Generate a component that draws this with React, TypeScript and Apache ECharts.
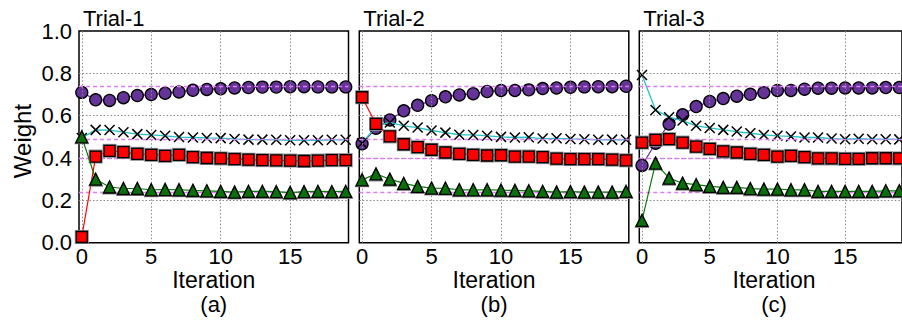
import React, { useEffect, useRef } from "react";
import * as echarts from "echarts";

// ---- data ----
const iterations = [0, 1, 2, 3, 4, 5, 6, 7, 8, 9, 10, 11, 12, 13, 14, 15, 16, 17, 18, 19];
const xTicks = [0, 5, 10, 15];
const yTicks = [0, 0.2, 0.4, 0.6, 0.8, 1.0];
const referenceWeights = [0.737, 0.486, 0.395, 0.242];
const trialTitles = ["Trial-1", "Trial-2", "Trial-3"];
const panelLabels = ["(a)", "(b)", "(c)"];

const circles1 = [0.71, 0.675, 0.672, 0.685, 0.695, 0.70, 0.706, 0.712, 0.72, 0.724, 0.727, 0.731, 0.733, 0.735, 0.735, 0.737, 0.737, 0.736, 0.736, 0.736];
const crosses1 = [0.495, 0.533, 0.532, 0.522, 0.513, 0.509, 0.505, 0.499, 0.497, 0.495, 0.494, 0.49, 0.487, 0.487, 0.486, 0.484, 0.484, 0.484, 0.486, 0.486];
const squares1 = [0.027, 0.407, 0.434, 0.428, 0.42, 0.415, 0.41, 0.415, 0.404, 0.40, 0.398, 0.395, 0.392, 0.39, 0.389, 0.388, 0.386, 0.388, 0.39, 0.39];
const triangles1 = [0.50, 0.30, 0.263, 0.256, 0.256, 0.25, 0.251, 0.25, 0.247, 0.245, 0.242, 0.239, 0.242, 0.242, 0.241, 0.237, 0.241, 0.242, 0.241, 0.242];

const circles2 = [0.467, 0.541, 0.58, 0.623, 0.649, 0.671, 0.689, 0.698, 0.704, 0.714, 0.719, 0.719, 0.722, 0.728, 0.731, 0.734, 0.736, 0.737, 0.737, 0.739];
const crosses2 = [0.47, 0.549, 0.568, 0.552, 0.544, 0.53, 0.52, 0.51, 0.509, 0.505, 0.50, 0.497, 0.498, 0.492, 0.493, 0.49, 0.489, 0.486, 0.487, 0.486];
const squares2 = [0.687, 0.561, 0.502, 0.465, 0.451, 0.439, 0.426, 0.42, 0.415, 0.412, 0.413, 0.407, 0.407, 0.404, 0.397, 0.395, 0.395, 0.395, 0.392, 0.389];
const triangles2 = [0.297, 0.325, 0.30, 0.28, 0.266, 0.258, 0.257, 0.25, 0.25, 0.25, 0.248, 0.247, 0.245, 0.242, 0.239, 0.241, 0.239, 0.239, 0.239, 0.242];

const circles3 = [0.365, 0.47, 0.561, 0.604, 0.643, 0.667, 0.681, 0.692, 0.701, 0.709, 0.719, 0.719, 0.725, 0.73, 0.73, 0.731, 0.731, 0.731, 0.733, 0.733];
const crosses3 = [0.792, 0.627, 0.593, 0.577, 0.552, 0.542, 0.533, 0.525, 0.517, 0.509, 0.505, 0.502, 0.497, 0.497, 0.492, 0.489, 0.491, 0.489, 0.489, 0.488];
const squares3 = [0.473, 0.486, 0.489, 0.473, 0.454, 0.443, 0.431, 0.426, 0.42, 0.415, 0.407, 0.41, 0.404, 0.398, 0.398, 0.396, 0.396, 0.399, 0.399, 0.398];
const triangles3 = [0.105, 0.376, 0.305, 0.281, 0.274, 0.266, 0.261, 0.261, 0.255, 0.253, 0.253, 0.25, 0.25, 0.242, 0.242, 0.242, 0.242, 0.242, 0.245, 0.245];

const trials = [
  { circles: circles1, crosses: crosses1, squares: squares1, triangles: triangles1 },
  { circles: circles2, crosses: crosses2, squares: squares2, triangles: triangles2 },
  { circles: circles3, crosses: crosses3, squares: squares3, triangles: triangles3 },
];

// ---- layout / style ----
const FONT = "Liberation Sans, Arial, sans-serif";
const PANEL_LEFTS = [79, 359.3, 639.3];
const PANEL_W = 269.5;
const PANEL_TOP = 31;
const PANEL_H = 211.7;
const CROSS_PATH = "path://M0,0L10,10M10,0L0,10";
const GRID_DOT = { color: "#888", type: [1.5, 2], width: 1 };

function pairs(vals: number[]) {
  return iterations.map((x, i) => [x, vals[i]]);
}

export default function App() {
  const ref = useRef<HTMLDivElement>(null);

  useEffect(() => {
    if (!ref.current) return;
    const chart = echarts.init(ref.current, undefined, { renderer: "svg" });

    const grids = PANEL_LEFTS.map((left) => ({
      left,
      top: PANEL_TOP,
      width: PANEL_W,
      height: PANEL_H,
      show: true,
      borderColor: "#000",
      borderWidth: 1.5,
      backgroundColor: "#fff",
      containLabel: false,
    }));

    const xAxes = PANEL_LEFTS.map((_, i) => ({
      type: "value",
      gridIndex: i,
      min: -0.2,
      max: 19.2,
      axisLine: { show: false },
      axisTick: { show: false },
      splitLine: { show: false },
      axisLabel: {
        customValues: xTicks,
        fontFamily: FONT,
        fontSize: 22,
        lineHeight: 20,
        color: "#000",
        margin: 4,
      },
    }));

    const yAxes = PANEL_LEFTS.map((_, i) => ({
      type: "value",
      gridIndex: i,
      min: yTicks[0],
      max: yTicks[yTicks.length - 1],
      interval: 0.2,
      axisLine: { show: false },
      axisTick: { show: false },
      splitLine: {
        show: true,
        showMinLine: false,
        showMaxLine: false,
        lineStyle: GRID_DOT,
      },
      axisLabel: {
        show: i === 0,
        fontFamily: FONT,
        fontSize: 22,
        color: "#000",
        margin: 7,
        formatter: (v: number) => v.toFixed(1),
      },
    }));

    const series: any[] = [];
    trials.forEach((t, i) => {
      const ax = { xAxisIndex: i, yAxisIndex: i };
      // reference lines + vertical grid lines
      series.push({
        type: "line",
        ...ax,
        data: [],
        z: 1,
        silent: true,
        markLine: {
          silent: true,
          symbol: ["none", "none"],
          label: { show: false },
          animation: false,
          data: [
            ...xTicks.map((v) => ({ xAxis: v, lineStyle: GRID_DOT })),
            ...referenceWeights.map((v) => ({
              yAxis: v,
              lineStyle: { color: "#e07cf5", type: [4, 3], width: 1.3 },
            })),
          ],
        },
      });
      // circles (purple)
      series.push({
        type: "line",
        ...ax,
        data: pairs(t.circles),
        z: 3,
        symbol: "circle",
        symbolSize: 12,
        lineStyle: { color: "#663399", width: 1.2 },
        itemStyle: { color: "#663399", borderColor: "#000", borderWidth: 1.3 },
      });
      // crosses (cyan line, black x)
      series.push({
        type: "line",
        ...ax,
        data: pairs(t.crosses),
        z: 4,
        symbol: CROSS_PATH,
        symbolSize: 10,
        lineStyle: { color: "#20c4c8", width: 1.3 },
        itemStyle: { color: "rgba(0,0,0,0)", borderColor: "#000", borderWidth: 1.5 },
      });
      // squares halo
      series.push({
        type: "line",
        ...ax,
        data: pairs(t.squares),
        z: 5,
        symbol: "rect",
        symbolSize: 14,
        lineStyle: { opacity: 0 },
        itemStyle: { color: "#8c8c8c" },
      });
      // squares (red)
      series.push({
        type: "line",
        ...ax,
        data: pairs(t.squares),
        z: 6,
        symbol: "rect",
        symbolSize: 11,
        lineStyle: { color: "#ff0000", width: 1.2 },
        itemStyle: { color: "#ff0000", borderColor: "#000", borderWidth: 1.3 },
      });
      // triangles halo
      series.push({
        type: "line",
        ...ax,
        data: pairs(t.triangles),
        z: 7,
        symbol: "triangle",
        symbolSize: 15,
        lineStyle: { opacity: 0 },
        itemStyle: { color: "#8c8c8c" },
      });
      // triangles (green)
      series.push({
        type: "line",
        ...ax,
        data: pairs(t.triangles),
        z: 8,
        symbol: "triangle",
        symbolSize: 12,
        lineStyle: { color: "#0a7a0a", width: 1.2 },
        itemStyle: { color: "#0a700a", borderColor: "#000", borderWidth: 1.3 },
      });
    });

    const graphic: any[] = [];
    PANEL_LEFTS.forEach((left, i) => {
      graphic.push({
        type: "text",
        x: left + 4,
        y: 18,
        style: {
          text: trialTitles[i],
          font: `22px ${FONT}`,
          fill: "#000",
          textAlign: "left",
          textVerticalAlign: "middle",
        },
      });
      graphic.push({
        type: "text",
        x: left + PANEL_W / 2,
        y: 280,
        style: {
          text: "Iteration",
          font: `23px ${FONT}`,
          lineHeight: 21,
          fill: "#000",
          textAlign: "center",
          textVerticalAlign: "middle",
        },
      });
      graphic.push({
        type: "text",
        x: left + PANEL_W / 2,
        y: 304,
        style: {
          text: panelLabels[i],
          font: `22px ${FONT}`,
          fill: "#000",
          textAlign: "center",
          textVerticalAlign: "middle",
        },
      });
    });
    graphic.push({
      type: "text",
      x: 22.5,
      y: 141,
      rotation: Math.PI / 2,
      style: {
        text: "Weight",
        font: `24px ${FONT}`,
        fill: "#000",
        textAlign: "center",
        textVerticalAlign: "middle",
      },
    });

    chart.setOption({
      animation: false,
      backgroundColor: "#fff",
      grid: grids,
      xAxis: xAxes,
      yAxis: yAxes,
      series,
      graphic,
    });

    return () => chart.dispose();
  }, []);

  return (
    <div
      ref={ref}
      style={{ position: "fixed", left: 0, top: 0, width: 902, height: 324 }}
    />
  );
}
